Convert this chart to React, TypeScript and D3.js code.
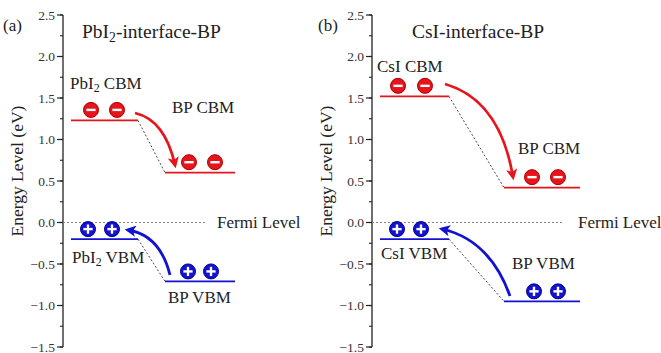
import React from 'react';
import * as d3 from 'd3';

// band edge energies (eV), one entry per panel
const panelTags = ['(a)', '(b)'];
const leftMaterial = ['PbI2', 'CsI'];
const leftCBM = [1.23, 1.52];
const rightCBM = [0.6, 0.42];
const leftVBM = [-0.2, -0.2];
const rightVBM = [-0.71, -0.95];
const fermiLevel = 0;
const yTicks = [-1.5, -1.0, -0.5, 0.0, 0.5, 1.0, 1.5, 2.0, 2.5];
const minorTicks = d3.range(-1.5, 2.51, 0.25);

const RED = '#e8141c';
const RED_DARK = '#a80000';
const BLUE = '#1212d0';
const BLUE_DARK = '#000090';
const FONT = '"Liberation Serif", "DejaVu Serif", serif';
const LABEL = 17;

// per-panel layout (pixels)
const layouts = [
  {
    axisX: 63, tagX: 3,
    left: [71, 138], right: [165, 235], fermiEnd: 207,
    leftDots: [91, 117], rightDots: [189, 215], rightHoles: [188, 211],
    holeLeft: [88, 112],
    cbmLabel: { l: [70, 89], r: [172, 113] },
    vbmLabel: { l: [72, 263], r: [168, 303] },
    redArrow: { from: [135, 113], ctrl: [165, 120], to: [175, 165] },
    blueArrow: { from: [170, 275], ctrl: [160, 235], to: [128, 230] },
    titleX: 82,
  },
  {
    axisX: 372, tagX: 318,
    left: [380, 449], right: [504, 580], fermiEnd: 563,
    leftDots: [398, 425], rightDots: [532, 558], rightHoles: [534, 558],
    holeLeft: [397, 421],
    cbmLabel: { l: [377, 72], r: [518, 154] },
    vbmLabel: { l: [381, 259], r: [512, 269] },
    redArrow: { from: [445, 84], ctrl: [500, 100], to: [513, 177] },
    blueArrow: { from: [510, 296], ctrl: [490, 240], to: [442, 229] },
    titleX: 412,
  },
];

const y = d3.scaleLinear().domain([-1.5, 2.5]).range([347, 15]);

const Material = ({ name }: { name: string }) =>
  name === 'PbI2' ? (
    <>
      PbI<tspan baselineShift="-25%" fontSize="0.7em">2</tspan>
    </>
  ) : (
    <>{name}</>
  );

const Carrier = ({ cx, cy, neg }: { cx: number; cy: number; neg: boolean }) => (
  <g>
    <circle cx={cx} cy={cy} r={7.5} fill={neg ? RED : BLUE} stroke={neg ? RED_DARK : BLUE_DARK} strokeWidth={1} />
    <line x1={cx - 4.6} x2={cx + 4.6} y1={cy} y2={cy} stroke="white" strokeWidth={2.4} />
    {!neg && <line x1={cx} x2={cx} y1={cy - 4.6} y2={cy + 4.6} stroke="white" strokeWidth={2.4} />}
  </g>
);

const Panel = ({ i }: { i: number }) => {
  const L = layouts[i];
  const path = (a: { from: number[]; ctrl: number[]; to: number[] }) => {
    const p = d3.path();
    p.moveTo(a.from[0], a.from[1]);
    p.quadraticCurveTo(a.ctrl[0], a.ctrl[1], a.to[0], a.to[1]);
    return p.toString();
  };
  const mat = leftMaterial[i];
  const cbmL = y(leftCBM[i]);
  const cbmR = y(rightCBM[i]);
  const vbmL = y(leftVBM[i]);
  const vbmR = y(rightVBM[i]);
  return (
    <g fontFamily={FONT}>
      <text x={L.tagX} y={31} fontSize={17} fill="#222">{panelTags[i]}</text>
      {/* axis */}
      <line x1={L.axisX} x2={L.axisX} y1={y(2.5)} y2={y(-1.5)} stroke="#222" strokeWidth={1.3} />
      {minorTicks.map((t) => (
        <line key={'m' + t} x1={L.axisX - 3} x2={L.axisX} y1={y(t)} y2={y(t)} stroke="#222" strokeWidth={1.1} />
      ))}
      {yTicks.map((t) => (
        <g key={t}>
          <line x1={L.axisX - 6} x2={L.axisX} y1={y(t)} y2={y(t)} stroke="#222" strokeWidth={1.2} />
          <text x={L.axisX - 8} y={y(t)} dy="0.35em" textAnchor="end" fontSize={13.5} fill="#333">
            {d3.format('.1f')(t)}
          </text>
        </g>
      ))}
      <text
        transform={`translate(${L.axisX - 40},${y(0.62)}) rotate(-90)`}
        textAnchor="middle"
        fontSize={17.5}
        fill="#222"
      >
        Energy Level (eV)
      </text>
      <text x={L.titleX} y={38} fontSize={19.5} fill="#222">
        <Material name={mat} />-interface-BP
      </text>
      {/* fermi level */}
      <line x1={L.axisX} x2={L.fermiEnd} y1={y(fermiLevel)} y2={y(fermiLevel)} stroke="#888" strokeWidth={1} strokeDasharray="2,2" />
      <text x={L.fermiEnd + (i === 0 ? 10 : 15)} y={y(fermiLevel)} dy="0.35em" fontSize={LABEL} fill="#222">Fermi Level</text>
      {/* band offsets */}
      <line x1={L.left[1]} x2={L.right[0]} y1={cbmL} y2={cbmR} stroke="#333" strokeWidth={0.9} strokeDasharray="2,2" />
      <line x1={L.left[1]} x2={L.right[0]} y1={vbmL} y2={vbmR} stroke="#333" strokeWidth={0.9} strokeDasharray="2,2" />
      <line x1={L.left[0]} x2={L.left[1]} y1={cbmL} y2={cbmL} stroke={RED} strokeWidth={1.8} />
      <line x1={L.right[0]} x2={L.right[1]} y1={cbmR} y2={cbmR} stroke={RED} strokeWidth={1.8} />
      <line x1={L.left[0]} x2={L.left[1]} y1={vbmL} y2={vbmL} stroke={BLUE} strokeWidth={1.8} />
      <line x1={L.right[0]} x2={L.right[1]} y1={vbmR} y2={vbmR} stroke={BLUE} strokeWidth={1.8} />
      {/* carriers */}
      {L.leftDots.map((cx) => <Carrier key={'el' + cx} cx={cx} cy={cbmL - 10.5} neg />)}
      {L.rightDots.map((cx) => <Carrier key={'er' + cx} cx={cx} cy={cbmR - 10.5} neg />)}
      {L.holeLeft.map((cx) => <Carrier key={'hl' + cx} cx={cx} cy={vbmL - 10} neg={false} />)}
      {L.rightHoles.map((cx) => <Carrier key={'hr' + cx} cx={cx} cy={vbmR - 10} neg={false} />)}
      {/* arrows */}
      <path d={path(L.redArrow)} fill="none" stroke={RED} strokeWidth={2.8} markerEnd="url(#headRed)" />
      <path d={path(L.blueArrow)} fill="none" stroke={BLUE} strokeWidth={2.8} markerEnd="url(#headBlue)" />
      {/* labels */}
      <text x={L.cbmLabel.l[0]} y={L.cbmLabel.l[1]} fontSize={LABEL} fill="#222"><Material name={mat} /> CBM</text>
      <text x={L.cbmLabel.r[0]} y={L.cbmLabel.r[1]} fontSize={LABEL} fill="#222">BP CBM</text>
      <text x={L.vbmLabel.l[0]} y={L.vbmLabel.l[1]} fontSize={LABEL} fill="#222"><Material name={mat} /> VBM</text>
      <text x={L.vbmLabel.r[0]} y={L.vbmLabel.r[1]} fontSize={LABEL} fill="#222">BP VBM</text>
    </g>
  );
};

export default function App() {
  return (
    <svg width={661} height={353} style={{ position: 'absolute', left: 0, top: 0, background: 'white' }}>
      <defs>
        <marker id="headRed" viewBox="0 0 10 10" refX={7} refY={5} markerWidth={4} markerHeight={4} orient="auto" markerUnits="strokeWidth">
          <path d="M0,0 L10,5 L0,10 L2.5,5 z" fill={RED} />
        </marker>
        <marker id="headBlue" viewBox="0 0 10 10" refX={7} refY={5} markerWidth={4} markerHeight={4} orient="auto" markerUnits="strokeWidth">
          <path d="M0,0 L10,5 L0,10 L2.5,5 z" fill={BLUE} />
        </marker>
      </defs>
      <Panel i={0} />
      <Panel i={1} />
    </svg>
  );
}
